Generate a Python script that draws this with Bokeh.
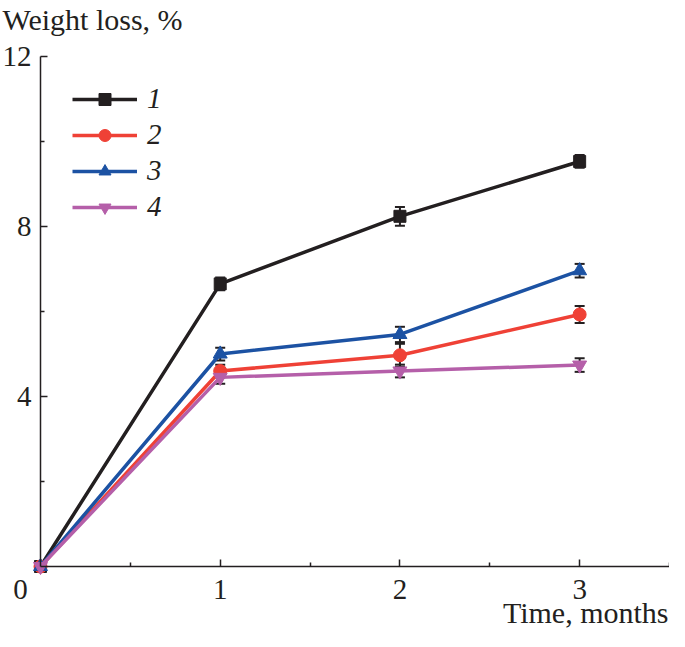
from bokeh.plotting import figure
from bokeh.models import (ColumnDataSource, FixedTicker, Whisker, TeeHead, Label,
                          Legend, LegendItem, Range1d)
from bokeh.embed import file_html
from bokeh.resources import INLINE

months = [0, 1, 2, 3]
s1 = [0, 6.65, 8.24, 9.53]
s2 = [0, 4.60, 4.97, 5.93]
s3 = [0, 5.00, 5.46, 6.96]
s4 = [0, 4.45, 4.60, 4.74]
e1 = [0, 0.15, 0.22, 0.15]
e2 = [0, 0.15, 0.27, 0.20]
e3 = [0, 0.15, 0.18, 0.16]
e4 = [0, 0.15, 0.15, 0.16]
labels = ["1", "2", "3", "4"]
x_ticks = [1, 2, 3]
x_minor = [0.5, 1.5, 2.5, 3.5]
y_ticks = [4, 8, 12]
y_minor = [2, 6, 10]
colors = ["#231f20", "#ef4136", "#1c52a3", "#b55fa9"]
markers = ["square", "circle", "triangle", "inverted_triangle"]
sizes = [12, 13, 14, 14]

SERIF = "Liberation Serif"
AX = "#231f20"
FS = "29px"
TS = "30px"

W, H = 669, 631
X0, XMAX = 40, 3.5            # pixel of x=0, axis end
Y0, YTOP = 566, 56            # pixel of y=0, pixel of y=12
xs = (W - X0) / XMAX
ysc = (Y0 - YTOP) / 12.0
x_range = Range1d(-X0 / xs, XMAX)
y_range = Range1d(-(H - Y0) / ysc, 12 + YTOP / ysc)

p = figure(width=W, height=H, output_backend="svg", toolbar_location=None,
           x_range=x_range, y_range=y_range,
           min_border_left=0, min_border_right=0, min_border_top=0, min_border_bottom=0)
p.outline_line_color = None
p.xgrid.visible = False
p.ygrid.visible = False

p.xaxis.ticker = FixedTicker(ticks=x_ticks, minor_ticks=x_minor)
p.yaxis.ticker = FixedTicker(ticks=y_ticks, minor_ticks=y_minor)
p.xaxis.fixed_location = 0
p.yaxis.fixed_location = 0
p.xaxis.bounds = (0, 3.5)
p.yaxis.bounds = (0, 12)
for ax in (p.xaxis, p.yaxis):
    ax.axis_line_color = AX
    ax.axis_line_width = 1.5
    ax.major_tick_line_color = AX
    ax.minor_tick_line_color = AX
    ax.major_tick_line_width = 1.5
    ax.minor_tick_line_width = 1.5
    ax.major_tick_in = 7
    ax.major_tick_out = 0
    ax.minor_tick_in = 4
    ax.minor_tick_out = 0
    ax.major_label_text_font = SERIF
    ax.major_label_text_font_size = FS
    ax.major_label_text_color = AX
p.xaxis.major_label_standoff = 13
p.yaxis.major_label_standoff = 9

items = []
ys = [s1, s2, s3, s4]
es = [e1, e2, e3, e4]
for i in range(4):
    src = ColumnDataSource(dict(x=months, y=ys[i]))
    ln = p.line("x", "y", source=src, line_color=colors[i], line_width=3.5)
    mk = p.scatter("x", "y", source=src, marker=markers[i], size=sizes[i],
                   fill_color=colors[i], line_color=colors[i])
    items.append(LegendItem(label=labels[i], renderers=[ln, mk]))

for i in range(4):
    src = ColumnDataSource(dict(x=months[1:],
                                lo=[a - b for a, b in zip(ys[i][1:], es[i][1:])],
                                hi=[a + b for a, b in zip(ys[i][1:], es[i][1:])]))
    w = Whisker(base="x", lower="lo", upper="hi", source=src,
                line_color=AX, line_width=2,
                upper_head=TeeHead(size=10, line_color=AX, line_width=2),
                lower_head=TeeHead(size=10, line_color=AX, line_width=2))
    p.add_layout(w)

legend = Legend(items=items, location=(72, 408), padding=0, margin=0,
                border_line_color=None, background_fill_alpha=0,
                glyph_width=65, glyph_height=30, label_height=30,
                spacing=3, label_standoff=10,
                label_text_font=SERIF, label_text_font_style="italic",
                label_text_font_size=FS, label_text_color=AX)
p.add_layout(legend, "center")

p.add_layout(Label(x=0, y=12, x_offset=-38, y_offset=37, text="Weight loss, %",
                   text_font=SERIF, text_font_size=TS, text_color=AX,
                   text_baseline="alphabetic", text_align="left"))
p.add_layout(Label(x=3.5, y=0, x_offset=-1, y_offset=-46, text="Time, months",
                   text_font=SERIF, text_font_size=TS, text_color=AX,
                   text_baseline="alphabetic", text_align="right"))
p.add_layout(Label(x=0, y=0, x_offset=-20, y_offset=-13, text="0",
                   text_font=SERIF, text_font_size=FS, text_color=AX,
                   text_baseline="top", text_align="center"))

open("out.html", "w").write(file_html(p, INLINE))
